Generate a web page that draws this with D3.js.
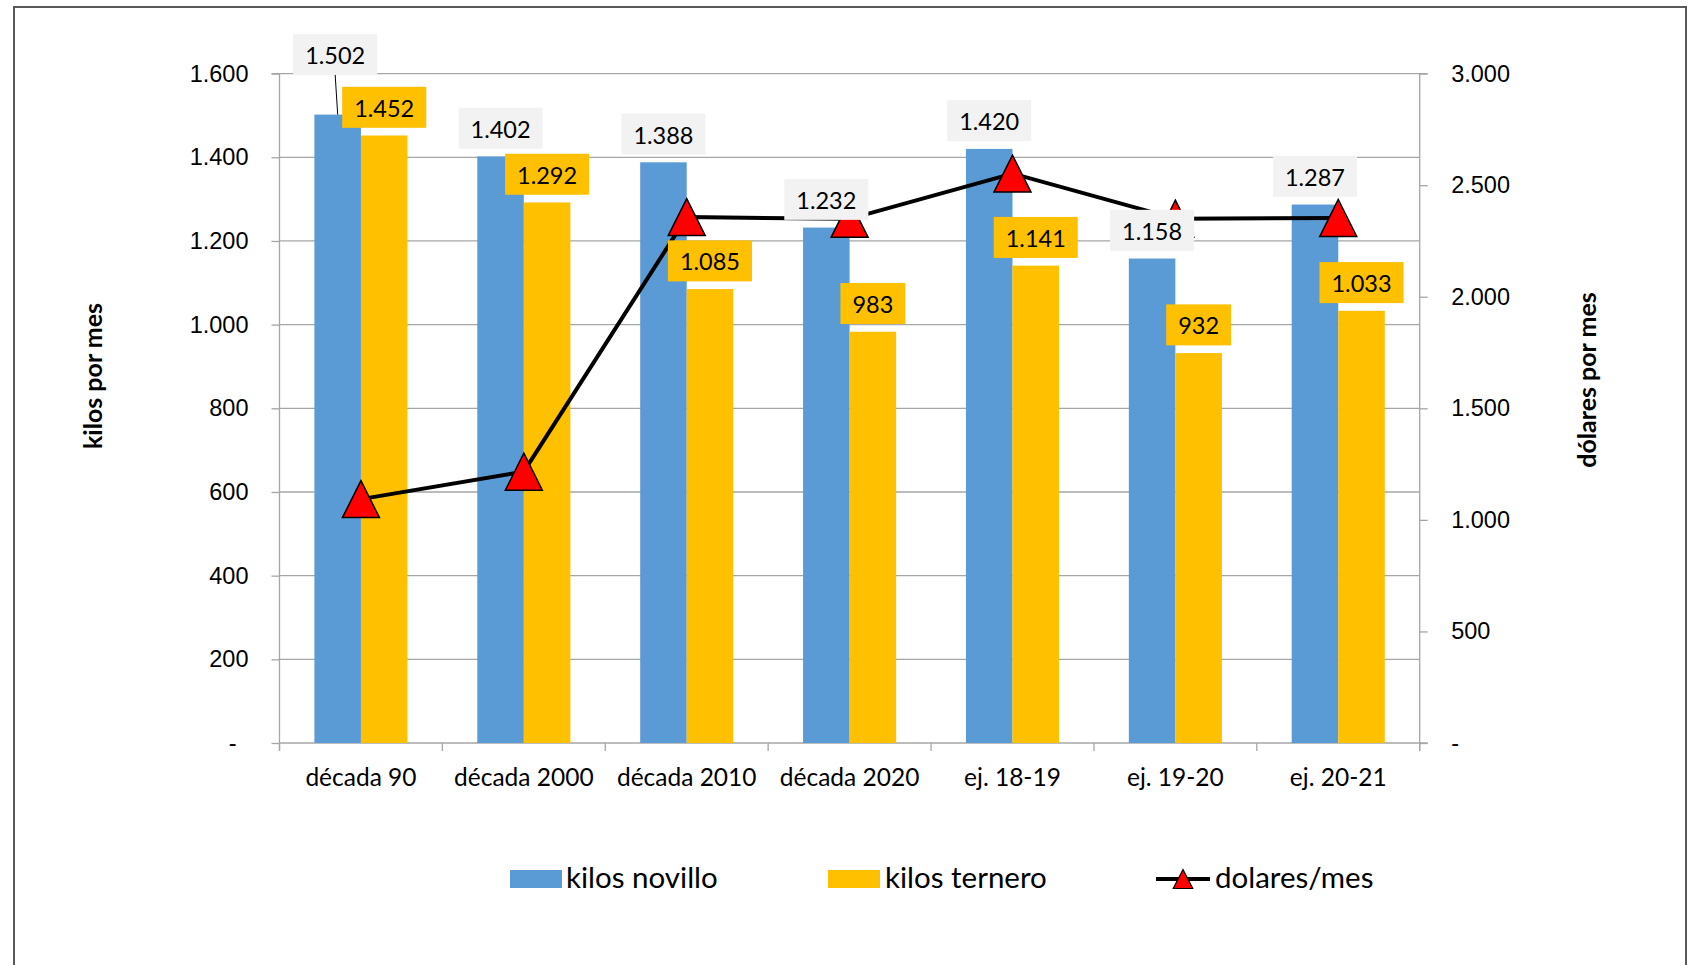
<!DOCTYPE html>
<html lang="es">
<head>
<meta charset="UTF-8">
<title>kilos y dólares por mes</title>
<script src="https://d3js.org/d3.v7.min.js"></script>
<style>
  html, body { margin: 0; padding: 0; background: #fff; }
  svg { display: block; font-family: Lato, "Open Sans", sans-serif; }
  .axis path, .axis line { stroke: #a6a6a6; stroke-width: 1.3px; }
  .axis text { fill: #000; font-size: 23.5px; }
  .axis text.cat { font-size: 24.5px; }
  .grid line { stroke: #a6a6a6; stroke-width: 1.3px; }
  .axis-title { font-size: 25px; font-weight: bold; fill: #000; }
  .legend text { font-size: 29.5px; fill: #000; }
  .label text { font-size: 23.5px; fill: #000; }
</style>
</head>
<body>
<svg width="1698" height="965"></svg>
<script>
// data
const categories = ["década 90", "década 2000", "década 2010", "década 2020", "ej. 18-19", "ej. 19-20", "ej. 20-21"];
const kilosNovillo = [1502, 1402, 1388, 1232, 1420, 1158, 1287];
const kilosTernero = [1452, 1292, 1085, 983, 1141, 932, 1033];
const dolaresMes = [1093, 1216, 2357, 2349, 2552, 2350, 2353];
const leftTicks = [0, 200, 400, 600, 800, 1000, 1200, 1400, 1600];
const rightTicks = [0, 500, 1000, 1500, 2000, 2500, 3000];
const seriesNames = ["kilos novillo", "kilos ternero", "dolares/mes"];

const colors = { novillo: "#5b9bd5", ternero: "#ffc000", line: "#000", marker: "#ff0000", grayLabel: "#f2f2f2" };

const svg = d3.select("svg");

// plot area
const plotL = 279.5, plotR = 1419.7, plotT = 73.6, plotB = 743;

const es = d3.formatLocale({ decimal: ",", thousands: ".", grouping: [3], currency: ["$", ""] });
const fmt = v => v === 0 ? "-" : es.format(",")(v);

const x = d3.scaleBand().domain(categories).range([plotL, plotR]);
const yL = d3.scaleLinear().domain([0, 1600]).range([plotB, plotT]);
const yR = d3.scaleLinear().domain([0, 3000]).range([plotB, plotT]);
const bw = x.step() / 3.5; // excel gap width 150%
const cx = c => x(c) + x.bandwidth() / 2;

// outer frame (bottom edge cut off)
svg.append("rect")
    .attr("x", 14).attr("y", 7)
    .attr("width", 1672).attr("height", 1100)
    .attr("fill", "none").attr("stroke", "#595959").attr("stroke-width", 2);

// gridlines
svg.append("g").attr("class", "grid")
  .selectAll("line").data(leftTicks.slice(1))
  .enter().append("line")
    .attr("x1", plotL).attr("x2", plotR)
    .attr("y1", d => yL(d)).attr("y2", d => yL(d));

// left axis
const gL = svg.append("g").attr("class", "axis")
    .attr("transform", `translate(${plotL},0)`)
    .call(d3.axisLeft(yL).tickValues(leftTicks).tickSize(8).tickPadding(23).tickFormat(fmt));
gL.select(".domain").attr("d", `M-8,${plotT}H0V${plotB + 8}`);
gL.selectAll(".tick text").filter(d => d === 0).attr("x", -43);

// right axis
const gR = svg.append("g").attr("class", "axis")
    .attr("transform", `translate(${plotR},0)`)
    .call(d3.axisRight(yR).tickValues(rightTicks).tickSize(8).tickPadding(23.5).tickFormat(fmt));
gR.select(".domain").attr("d", `M8,${plotT}H0V${plotB + 8}`);

// category axis
const gB = svg.append("g").attr("class", "axis");
gB.append("line")
    .attr("x1", plotL).attr("x2", plotR + 8)
    .attr("y1", plotB).attr("y2", plotB);
gB.selectAll("line.tk").data(d3.range(categories.length + 1))
  .enter().append("line").attr("class", "tk")
    .attr("x1", i => plotL + i * x.step()).attr("x2", i => plotL + i * x.step())
    .attr("y1", plotB).attr("y2", plotB + 8);
gB.selectAll("text").data(categories)
  .enter().append("text").attr("class", "cat")
    .attr("x", d => cx(d)).attr("y", 786)
    .attr("text-anchor", "middle")
    .text(d => d);

// bars
svg.append("g").selectAll("rect").data(categories)
  .enter().append("rect")
    .attr("x", d => cx(d) - bw).attr("width", bw)
    .attr("y", (d, i) => yL(kilosNovillo[i]))
    .attr("height", (d, i) => plotB - yL(kilosNovillo[i]))
    .attr("fill", colors.novillo);
svg.append("g").selectAll("rect").data(categories)
  .enter().append("rect")
    .attr("x", d => cx(d)).attr("width", bw)
    .attr("y", (d, i) => yL(kilosTernero[i]))
    .attr("height", (d, i) => plotB - yL(kilosTernero[i]))
    .attr("fill", colors.ternero);

// dollars line + triangle markers
const line = d3.line().x((d, i) => cx(categories[i])).y(d => yR(d));
svg.append("path").datum(dolaresMes)
    .attr("d", line)
    .attr("fill", "none").attr("stroke", colors.line).attr("stroke-width", 4)
    .attr("stroke-linejoin", "round");

function triangle(w, h) {
  return `M0,${-h / 2}L${w / 2},${h / 2}L${-w / 2},${h / 2}Z`;
}
svg.append("g").selectAll("path").data(dolaresMes)
  .enter().append("path")
    .attr("transform", (d, i) => `translate(${cx(categories[i])},${yR(d)})`)
    .attr("d", triangle(37, 37))
    .attr("fill", colors.marker).attr("stroke", "#000").attr("stroke-width", 1.5);

// data labels (drawn on top)
const gap = 7.7, boxH = 41, pad = 12;
function addLabels(values, xOff, fill, lift) {
  const g = svg.append("g").attr("class", "label");
  values.forEach((v, i) => {
    const bx = cx(categories[i]) + xOff + (lift[i] ? lift[i][0] : 0);
    const yb = yL(v) - gap - (lift[i] ? lift[i][1] : 0);
    const lg = g.append("g");
    const t = lg.append("text")
        .attr("x", bx).attr("y", yb - 11)
        .attr("text-anchor", "middle")
        .text(fmt(v));
    const tw = t.node().getComputedTextLength();
    lg.insert("rect", "text")
        .attr("x", bx - tw / 2 - pad).attr("y", yb - boxH)
        .attr("width", tw + 2 * pad).attr("height", boxH)
        .attr("fill", fill);
    if (lift[i]) {
      g.append("line")
          .attr("x1", bx).attr("y1", yb)
          .attr("x2", cx(categories[i]) + xOff).attr("y2", yL(v))
          .attr("stroke", "#000").attr("stroke-width", 1);
    }
  });
}
// the first novillo label was dragged up in the original, with a leader line
addLabels(kilosNovillo, -bw / 2, colors.grayLabel, { 0: [-2.5, 32] });
addLabels(kilosTernero, bw / 2, colors.ternero, {});

// axis titles
svg.append("text").attr("class", "axis-title")
    .attr("transform", "translate(102,376) rotate(-90)")
    .attr("text-anchor", "middle").text("kilos por mes");
svg.append("text").attr("class", "axis-title")
    .attr("transform", "translate(1596,380) rotate(-90)")
    .attr("text-anchor", "middle").text("dólares por mes");

// legend
const leg = svg.append("g").attr("class", "legend");
const legY = 879;
const legX = [510, 828, 1156];
leg.append("rect").attr("x", legX[0]).attr("y", legY - 9).attr("width", 52).attr("height", 18).attr("fill", colors.novillo);
leg.append("rect").attr("x", legX[1]).attr("y", legY - 9).attr("width", 52).attr("height", 18).attr("fill", colors.ternero);
leg.append("line").attr("x1", legX[2]).attr("x2", legX[2] + 54).attr("y1", legY).attr("y2", legY)
    .attr("stroke", "#000").attr("stroke-width", 4);
leg.append("path").attr("transform", `translate(${legX[2] + 27},${legY})`)
    .attr("d", triangle(19.5, 19))
    .attr("fill", colors.marker).attr("stroke", "#000").attr("stroke-width", 1.2);
leg.selectAll("text").data(seriesNames)
  .enter().append("text")
    .attr("x", (d, i) => legX[i] + [56, 57, 59][i])
    .attr("y", 888)
    .text(d => d);
</script>
</body>
</html>
